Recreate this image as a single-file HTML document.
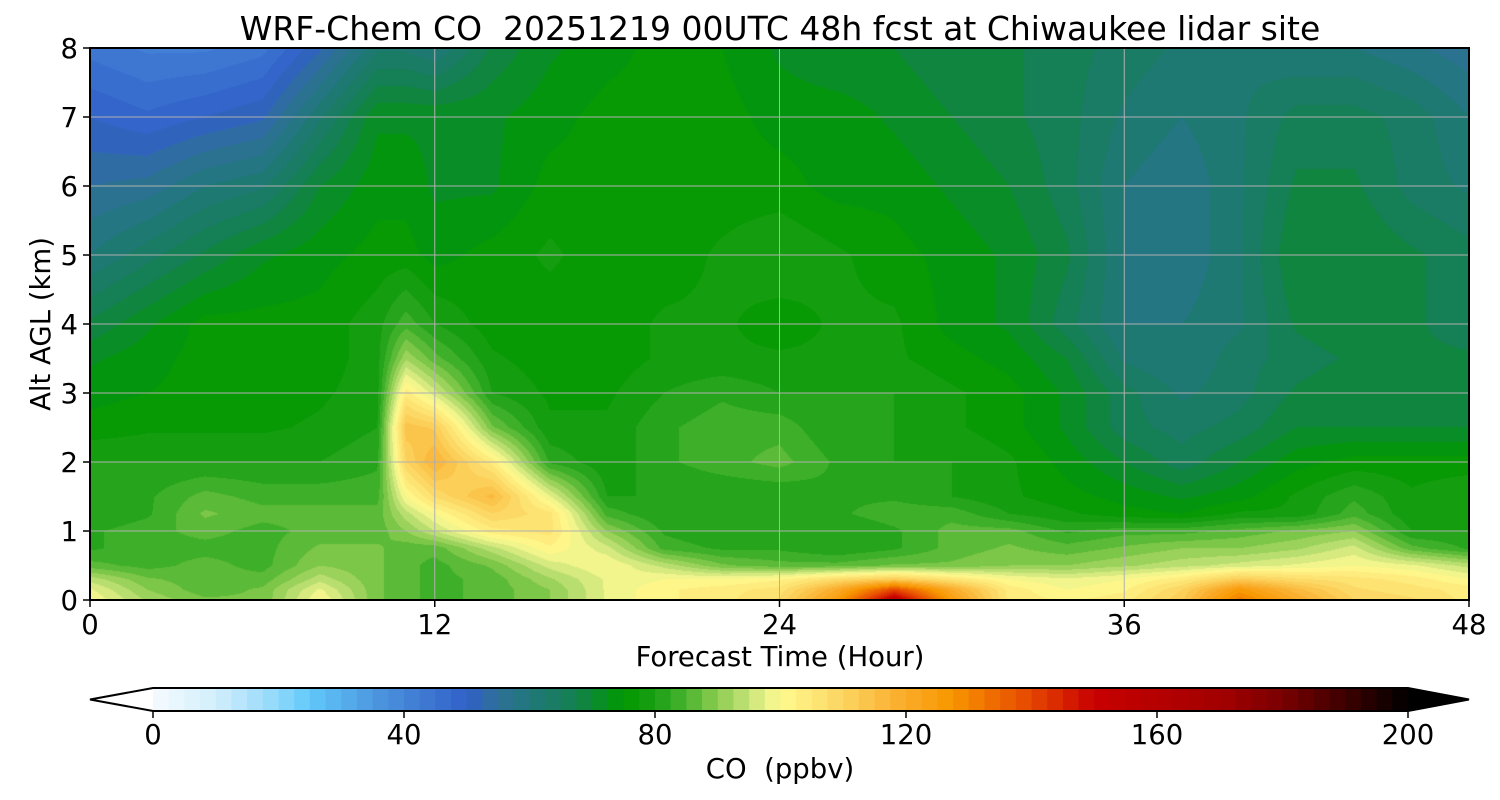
<!DOCTYPE html>
<html><head><meta charset="utf-8"><style>
body{margin:0;background:#fff;width:1500px;height:800px;overflow:hidden;font-family:"Liberation Sans",sans-serif}
#wrap{position:relative;width:1500px;height:800px}
canvas{position:absolute;left:90px;top:48px}
svg{position:absolute;left:0;top:0}
text{font-family:"DejaVu Sans","Liberation Sans",sans-serif;fill:#000;white-space:pre}
</style></head><body>
<div id="wrap">
<canvas id="cv" width="1379" height="552"></canvas>
<svg id="sv" width="1500" height="800"></svg>
</div>
<script>
const hours=[0,2,4,6,8,10,11,12,14,16,18,20,22,24,26,28,30,32,34,36,38,40,42,44,46,48];
const alts=[0,0.15,0.3,0.5,0.75,1,1.25,1.5,2,2.5,3,3.5,4,5,6,7,8];
const coValues=[
[100,92,88,88,100,88,86,84,86,90,98,102,104,108,125,155,125,104,102,104,112,132,120,110,108,104],
[98,90,86,88,98,88,86,84,86,90,98,102,104,106,120,140,120,104,100,102,110,126,116,108,106,104],
[94,88,86,86,94,88,86,84,86,92,98,100,100,102,108,112,106,100,98,100,104,112,108,106,104,100],
[86,84,86,84,90,88,86,84,88,96,100,94,88,86,86,88,88,90,90,92,94,96,98,100,98,94],
[82,84,84,84,88,88,86,86,94,102,96,84,82,82,80,82,86,88,86,88,90,90,92,96,86,82],
[82,84,86,84,86,86,90,95,104,106,90,82,80,80,80,82,86,86,82,84,84,86,88,90,80,80],
[80,82,88,86,86,86,94,100,110,106,84,80,80,80,82,84,84,80,78,76,75,78,78,84,78,80],
[80,82,86,84,84,84,100,108,116,98,80,80,80,80,82,82,80,78,76,74,72,74,78,82,78,80],
[80,80,80,80,80,82,110,118,104,82,78,82,84,86,82,80,80,78,74,70,66,70,74,76,76,76],
[76,77,77,77,78,80,114,112,88,78,78,82,84,84,80,80,78,76,72,66,64,66,70,70,70,70],
[74,75,76,76,77,79,104,96,80,77,77,80,82,80,80,80,78,76,72,66,62,64,68,70,68,68],
[72,74,76,76,76,79,92,86,78,76,76,78,78,78,78,78,76,74,70,62,60,64,66,68,68,68],
[68,72,76,76,76,79,84,80,76,76,76,78,78,76,78,78,74,72,66,60,60,62,68,70,68,66],
[60,64,68,72,74,76,76,74,76,78,76,76,78,80,78,76,74,72,68,60,58,62,70,70,68,66],
[55,56,60,62,70,74,74,72,72,76,76,76,76,76,74,74,72,70,66,60,58,62,68,68,64,62],
[50,48,50,52,62,72,72,72,72,74,76,76,76,74,74,72,70,68,66,62,60,62,66,66,64,60],
[44,42,42,44,52,62,62,60,68,72,74,76,75,72,70,70,68,68,66,64,62,62,60,60,58,56]];
const xTicks=[0,12,24,36,48];
const yTicks=[0,1,2,3,4,5,6,7,8];
const cbTicks=[0,40,80,120,160,200];
const cmapStops=[[0,[245,250,255]],[10,[210,238,252]],[20,[143,216,251]],[25,[96,200,250]],[35,[78,152,224]],[45,[58,114,208]],[50,[48,96,200]],[55,[46,112,152]],[60,[32,120,122]],[67,[20,128,80]],[75,[0,153,0]],[80,[26,158,20]],[85,[74,180,48]],[90,[140,204,80]],[95,[200,228,122]],[100,[255,251,144]],[110,[252,212,96]],[120,[250,170,40]],[127,[248,152,0]],[140,[230,70,0]],[150,[200,0,0]],[171,[160,0,0]],[180,[120,0,0]],[200,[0,0,0]]];
const STEP=2.5;
const X0=90,X1=1469,Y0=48,Y1=600;
const xs=h=>X0+(h/48)*(X1-X0), ys=a=>Y1-(a/8)*(Y1-Y0);
function cmap(v){v=Math.max(0,Math.min(200,v));for(let i=1;i<cmapStops.length;i++){const[a,ca]=cmapStops[i-1],[b,cb]=cmapStops[i];if(v<=b){const f=(v-a)/(b-a);return ca.map((c,k)=>Math.round(c+(cb[k]-c)*f));}}return [0,0,0];}
function binColor(v){const b=Math.floor(v/STEP);return cmap(b*STEP+STEP/2);}
function locate(arr,v){let i=0;while(i<arr.length-2&&v>arr[i+1])i++;return [i,(v-arr[i])/(arr[i+1]-arr[i])];}
const cv=document.getElementById('cv'),ctx=cv.getContext('2d');
const W=cv.width,H=cv.height,img=ctx.createImageData(W,H);
for(let py=0;py<H;py++){const a=(Y1-(Y0+py+0.5))/(Y1-Y0)*8;const[j,fy]=locate(alts,a);
 for(let px=0;px<W;px++){const h=(px+0.5)/W*48;const[i,fx]=locate(hours,h);
  const v=(coValues[j][i]*(1-fx)+coValues[j][i+1]*fx)*(1-fy)+(coValues[j+1][i]*(1-fx)+coValues[j+1][i+1]*fx)*fy;
  const c=binColor(v),o=(py*W+px)*4;img.data[o]=c[0];img.data[o+1]=c[1];img.data[o+2]=c[2];img.data[o+3]=255;}}
ctx.putImageData(img,0,0);
const sv=document.getElementById('sv'),NS='http://www.w3.org/2000/svg';
function el(t,at,txt){const e=document.createElementNS(NS,t);for(const k in at)e.setAttribute(k,at[k]);if(txt!=null)e.textContent=txt;sv.appendChild(e);return e;}
const FS=27.5;
xTicks.forEach(h=>{const x=xs(h);
 const g=el('line',{x1:x,x2:x,y1:Y0,y2:Y1,stroke:'#b0b0b0','stroke-width':1});
 
 const t=el('line',{x1:x,x2:x,y1:Y1,y2:Y1+7,stroke:'#000','stroke-width':1.5});
 
 const l=el('text',{x:x,y:Y1+34,'font-size':FS,'text-anchor':'middle'},h);
 });
yTicks.forEach(a=>{const y=ys(a);
 const g=el('line',{x1:X0,x2:X1,y1:y,y2:y,stroke:'#b0b0b0','stroke-width':1});
 
 const t=el('line',{x1:X0-7,x2:X0,y1:y,y2:y,stroke:'#000','stroke-width':1.5});
 
 const l=el('text',{x:X0-12,y:y+10,'font-size':FS,'text-anchor':'end'},a);
 });
const fr=el('rect',{x:X0,y:Y0,width:X1-X0,height:Y1-Y0,fill:'none',stroke:'#000','stroke-width':2});

const ti=el('text',{x:780,y:40,'font-size':33,'text-anchor':'middle'},'WRF-Chem CO  20251219 00UTC 48h fcst at Chiwaukee lidar site');

const xt=el('text',{x:780,y:666,'font-size':FS,'text-anchor':'middle'},'Forecast Time (Hour)');

const yt=el('text',{x:0,y:0,'font-size':FS,'text-anchor':'middle',transform:'translate(50,324) rotate(-90)'},'Alt AGL (km)');

const C0=153,C1=1408,CY0=688,CY1=711,cx=v=>C0+(v/200)*(C1-C0);
for(let v=0;v<200;v+=STEP){const c=cmap(v+STEP/2);
 const r=el('rect',{x:cx(v),y:CY0,width:cx(v+STEP)-cx(v)+0.6,height:CY1-CY0,fill:`rgb(${c})`});
 }
const lt=el('polygon',{points:`${C0},${CY0} 90,${(CY0+CY1)/2} ${C0},${CY1}`,fill:'#fff',stroke:'none'});

const rt=el('polygon',{points:`${C1},${CY0} 1469,${(CY0+CY1)/2} ${C1},${CY1}`,fill:'#000'});

const ol=el('polygon',{points:`${C0},${CY0} ${C1},${CY0} 1469,${(CY0+CY1)/2} ${C1},${CY1} ${C0},${CY1} 90,${(CY0+CY1)/2}`,fill:'none',stroke:'#000','stroke-width':2});

cbTicks.forEach(v=>{const x=cx(v);
 const t=el('line',{x1:x,x2:x,y1:CY1,y2:CY1+7,stroke:'#000','stroke-width':1.5});
 
 const l=el('text',{x:x,y:744,'font-size':FS,'text-anchor':'middle'},v);
 });
const ct=el('text',{x:780,y:778,'font-size':FS,'text-anchor':'middle'},'CO  (ppbv)');

</script>
</body></html>
